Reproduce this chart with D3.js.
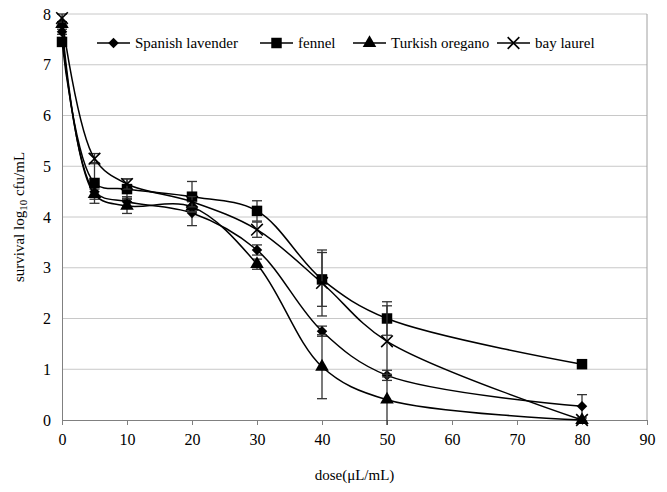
<!DOCTYPE html>
<html>
<head>
<meta charset="utf-8">
<script src="https://cdn.jsdelivr.net/npm/d3@7"></script>
<style>
  body { margin: 0; background: #fff; }
</style>
</head>
<body>
<svg width="667" height="492"></svg>
<script>
const doses = [0, 5, 10, 20, 30, 40, 50, 80];
const seriesNames = ['Spanish lavender', 'fennel', 'Turkish oregano', 'bay laurel'];
const lavender = [7.65, 4.5, 4.3, 4.08, 3.35, 1.75, 0.88, 0.27];
const fennel = [7.45, 4.67, 4.55, 4.4, 4.12, 2.77, 2.0, 1.1];
const oregano = [7.8, 4.45, 4.22, 4.2, 3.07, 1.05, 0.4, 0];
const laurel = [7.92, 5.15, 4.65, 4.3, 3.75, 2.7, 1.55, 0];
const lavenderErr = [0.05, 0.1, 0.1, 0.25, 0.1, 0.1, 0.1, 0.23];
const fennelErr = [0.05, 0.4, 0.2, 0.3, 0.2, 0.53, 0.33, 0.05];
const oreganoErr = [0.05, 0.1, 0.15, 0.1, 0.1, 0.63, 0.5, 0];
const laurelErr = [0.08, 0.1, 0.1, 0.1, 0.15, 0.65, 0.7, 0];
const xTicks = [0, 10, 20, 30, 40, 50, 60, 70, 80, 90];
const yTicks = [0, 1, 2, 3, 4, 5, 6, 7, 8];

const series = [
  { name: seriesNames[0], values: lavender, err: lavenderErr, symbol: 'diamond' },
  { name: seriesNames[1], values: fennel, err: fennelErr, symbol: 'square' },
  { name: seriesNames[2], values: oregano, err: oreganoErr, symbol: 'triangle' },
  { name: seriesNames[3], values: laurel, err: laurelErr, symbol: 'cross' }
];

const FONT = '"Liberation Serif", "DejaVu Serif", serif';

const svg = d3.select('svg');
const margin = { top: 14, right: 20, bottom: 72, left: 62 };
const width = +svg.attr('width');
const height = +svg.attr('height');
const innerWidth = width - margin.left - margin.right;
const innerHeight = height - margin.top - margin.bottom;

const xScale = d3.scaleLinear().domain([0, 90]).range([0, innerWidth]);
const yScale = d3.scaleLinear().domain([0, 8]).range([innerHeight, 0]);

const g = svg.append('g')
  .attr('transform', `translate(${margin.left},${margin.top})`);

// gridlines
g.selectAll('.grid')
  .data(yTicks.filter(d => d > 0))
  .enter().append('line')
  .attr('x1', 0).attr('x2', innerWidth)
  .attr('y1', d => yScale(d)).attr('y2', d => yScale(d))
  .attr('stroke', '#c8c8c8').attr('stroke-width', 1);

// right border
g.append('line')
  .attr('x1', innerWidth).attr('x2', innerWidth)
  .attr('y1', 0).attr('y2', innerHeight)
  .attr('stroke', '#a0a0a0');

// axes
const xAxis = d3.axisBottom(xScale).tickValues(xTicks).tickSize(5).tickPadding(9);
const xAxisG = g.append('g').attr('transform', `translate(0,${innerHeight})`).call(xAxis);
xAxisG.attr('font-family', FONT).attr('font-size', 16);
xAxisG.selectAll('.domain, line').attr('stroke', '#808080');
xAxisG.selectAll('text').style('font-family', FONT).style('font-size', '16px').attr('fill', '#000');

const yAxis = d3.axisLeft(yScale).tickValues(yTicks).tickSize(0).tickPadding(11);
const yAxisG = g.append('g').call(yAxis);
yAxisG.attr('font-family', FONT).attr('font-size', 16);
yAxisG.selectAll('.domain').attr('stroke', '#808080');
yAxisG.selectAll('text').style('font-family', FONT).style('font-size', '16px').attr('fill', '#000');

// axis titles
svg.append('text')
  .attr('x', margin.left + innerWidth / 2)
  .attr('y', 480)
  .attr('text-anchor', 'middle')
  .style('font-family', FONT)
  .style('font-size', '15px')
  .text('dose(μL/mL)');

const yTitle = svg.append('text')
  .attr('transform', `translate(24,${margin.top + innerHeight / 2}) rotate(-90)`)
  .attr('text-anchor', 'middle')
  .style('font-family', FONT)
  .style('font-size', '15px');
yTitle.append('tspan').text('survival log');
yTitle.append('tspan').attr('dy', 3).style('font-size', '11px').text('10');
yTitle.append('tspan').attr('dy', -3).text(' cfu/mL');

// symbols
const symbolPath = (type, size) => {
  if (type === 'diamond') return d3.symbol(d3.symbolDiamond2, size)();
  if (type === 'square') return d3.symbol(d3.symbolSquare, size)();
  if (type === 'triangle') return d3.symbol(d3.symbolTriangle, size)();
  return d3.symbol(d3.symbolTimes, size)();
};
const symbolSize = { diamond: 70, square: 110, triangle: 80, cross: 90 };

const line = d3.line()
  .x(d => xScale(d.x))
  .y(d => yScale(d.y))
  .curve(d3.curveCatmullRom.alpha(0.5));

series.forEach(s => {
  const pts = doses.map((x, i) => ({ x, y: s.values[i], e: s.err[i] }));

  // error bars
  const eb = g.append('g').attr('stroke', '#333').attr('stroke-width', 1.3);
  pts.filter(p => p.e > 0).forEach(p => {
    const cx = xScale(p.x);
    eb.append('line')
      .attr('x1', cx).attr('x2', cx)
      .attr('y1', yScale(p.y + p.e)).attr('y2', yScale(p.y - p.e));
    [p.y + p.e, p.y - p.e].filter(v => v >= 0 && v <= 8).forEach(v => {
      eb.append('line')
        .attr('x1', cx - 5).attr('x2', cx + 5)
        .attr('y1', yScale(v)).attr('y2', yScale(v));
    });
  });

  g.append('path')
    .datum(pts)
    .attr('fill', 'none')
    .attr('stroke', '#000')
    .attr('stroke-width', 1.5)
    .attr('d', line);

  g.selectAll(null)
    .data(pts)
    .enter().append('path')
    .attr('transform', d => `translate(${xScale(d.x)},${yScale(d.y)})`)
    .attr('d', symbolPath(s.symbol, symbolSize[s.symbol]))
    .attr('fill', s.symbol === 'cross' ? 'none' : '#000')
    .attr('stroke', '#000')
    .attr('stroke-width', s.symbol === 'cross' ? 1.6 : 0);
});

// legend
const legendX = [97, 260, 353, 497];
const legend = svg.append('g').attr('transform', 'translate(0,43)');
series.forEach((s, i) => {
  const lg = legend.append('g').attr('transform', `translate(${legendX[i]},0)`);
  lg.append('line').attr('x1', 0).attr('x2', 33).attr('stroke', '#000').attr('stroke-width', 1.5);
  lg.append('path')
    .attr('transform', 'translate(16.5,0)')
    .attr('d', symbolPath(s.symbol, symbolSize[s.symbol]))
    .attr('fill', s.symbol === 'cross' ? 'none' : '#000')
    .attr('stroke', '#000')
    .attr('stroke-width', s.symbol === 'cross' ? 1.6 : 0);
  lg.append('text')
    .attr('x', 38).attr('y', 5)
    .style('font-family', FONT)
    .style('font-size', '15px')
    .text(s.name);
});
</script>
</body>
</html>
